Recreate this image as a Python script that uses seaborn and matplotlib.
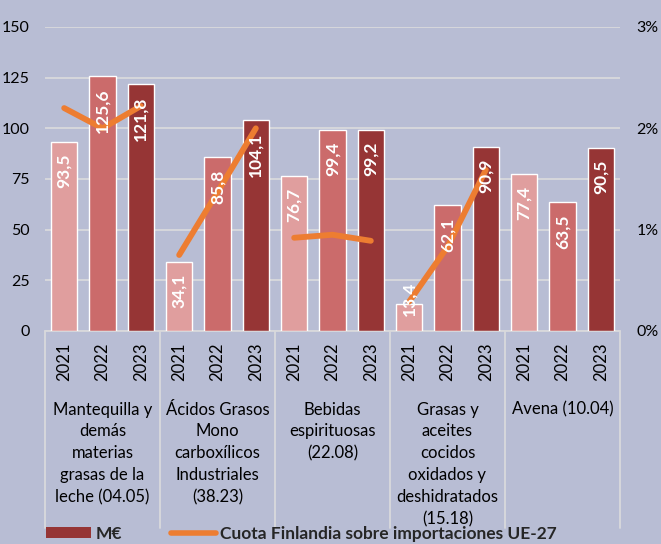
import numpy as np
import pandas as pd
import matplotlib
matplotlib.use("Agg")
import matplotlib.pyplot as plt
import matplotlib.ticker as mticker
from matplotlib.patches import Patch
from matplotlib.lines import Line2D
import seaborn as sns

# ---------------- data ----------------
categories = [
    "Mantequilla y\ndemás\nmaterias\ngrasas de la\nleche (04.05)",
    "Ácidos Grasos\nMono\ncarboxílicos\nIndustriales\n(38.23)",
    "Bebidas\nespirituosas\n(22.08)",
    "Grasas y\naceites\ncocidos\noxidados y\ndeshidratados\n(15.18)",
    "Avena (10.04)",
]
years = ["2021", "2022", "2023"]
values_2021 = [93.5, 34.1, 76.7, 13.4, 77.4]
values_2022 = [125.6, 85.8, 99.4, 62.1, 63.5]
values_2023 = [121.8, 104.1, 99.2, 90.9, 90.5]
share_2021 = [0.022, 0.0075, 0.0092, 0.0029, np.nan]
share_2022 = [0.020, 0.0137, 0.0095, 0.0083, np.nan]
share_2023 = [0.0222, 0.020, 0.0089, 0.0159, np.nan]
legend_labels = ["M€", "Cuota Finlandia sobre importaciones UE-27"]

# ---------------- style ----------------
BG = "#B8BDD4"
GRID = "#D9D9DC"
colors = ["#E09E9E", "#CB6B6B", "#963535"]
ORANGE = "#ED7D31"

sns.set_theme(style="white")
plt.rcParams["font.family"] = ["Lato", "DejaVu Sans"]

df = pd.DataFrame({
    "group": np.repeat(np.arange(len(categories)), 3),
    "year": years * len(categories),
    "value": np.ravel(np.column_stack([values_2021, values_2022, values_2023])),
})

fig = plt.figure(figsize=(6.61, 5.44), dpi=100, facecolor=BG)
ax = fig.add_axes([45 / 661, 1 - 331 / 544, (620 - 45) / 661, (331 - 27) / 544])
ax.set_facecolor(BG)

sns.barplot(data=df, x="group", y="value", hue="year", hue_order=years,
            palette=colors, width=1.0, gap=0.32, saturation=1, legend=False,
            ax=ax, zorder=3)

ax.set_ylim(0, 150)
ax.set_xlim(-0.5, len(categories) - 0.5)
ax.set_yticks([0, 25, 50, 75, 100, 125, 150])
ax.yaxis.grid(True, color=GRID, linewidth=1.3, zorder=0)
ax.set_axisbelow(True)
for s in ax.spines.values():
    s.set_visible(False)
ax.tick_params(axis="y", length=0, pad=11, labelsize=11.5, labelcolor="black")
ax.set_xlabel("")
ax.set_ylabel("")

# year tick labels under each bar
offsets = np.array([-1, 0, 1]) / 3
xt = np.concatenate([g + offsets for g in range(len(categories))])
ax.set_xticks(xt)
ax.set_xticklabels(years * len(categories), rotation=90, fontsize=12)
ax.tick_params(axis="x", length=0, pad=8, labelcolor="black")
for lbl in ax.get_xticklabels():
    lbl.set_verticalalignment("top")

# group separators and baseline
trans = matplotlib.transforms.blended_transform_factory(ax.transData, ax.transAxes)
for b in np.arange(-0.5, len(categories), 1.0):
    ax.plot([b, b], [0, -0.648], transform=trans, color=GRID, lw=1.3,
            clip_on=False, zorder=1)
ax.plot([-0.5, len(categories) - 0.5], [0, 0], transform=trans, color=GRID,
        lw=1.3, clip_on=False, zorder=2)

# category labels
for i, c in enumerate(categories):
    ax.text(i, -0.232, c, transform=trans, ha="center", va="top", fontsize=12,
            linespacing=1.45, color="black")

# share line on secondary axis
ax2 = ax.twinx()
ax2.set_ylim(0, 0.03)
ax2.set_yticks([0, 0.01, 0.02, 0.03])
ax2.yaxis.set_major_formatter(mticker.FuncFormatter(lambda v, p: f"{v*100:.0f}%"))
ax2.tick_params(axis="y", length=0, pad=12, labelsize=11.5, labelcolor="black")
for s in ax2.spines.values():
    s.set_visible(False)
ax2.grid(False)
shares = np.column_stack([share_2021, share_2022, share_2023])
for g in range(len(categories)):
    sns.lineplot(x=g + offsets, y=shares[g], ax=ax2, color=ORANGE, lw=4.2,
                 solid_capstyle="round", zorder=4, legend=False)
ax2.set_xlim(ax.get_xlim())

# bar value labels (drawn on top of the line)
for cont in ax.containers:
    for bar in cont:
        h = bar.get_height()
        xc = bar.get_x() + bar.get_width() / 2
        ax2.text(xc, max(h - 6.0, 24.5), f"{h:.1f}".replace(".", ","),
                 transform=ax.transData, rotation=90, ha="center", va="top",
                 color="white", fontsize=12.5, fontweight="bold", zorder=6)

# legend
handles = [Patch(facecolor=colors[2], edgecolor="none"),
           Line2D([0], [0], color=ORANGE, lw=4)]
fig.legend(handles, legend_labels, loc="center left",
           bbox_to_anchor=(0.046, 0.019), ncol=2, frameon=False,
           handlelength=2.6, handleheight=0.65, handletextpad=0.25,
           columnspacing=2.8, prop={"weight": "bold", "size": 12.5})

fig.savefig("out.png", dpi=100, facecolor=BG)
